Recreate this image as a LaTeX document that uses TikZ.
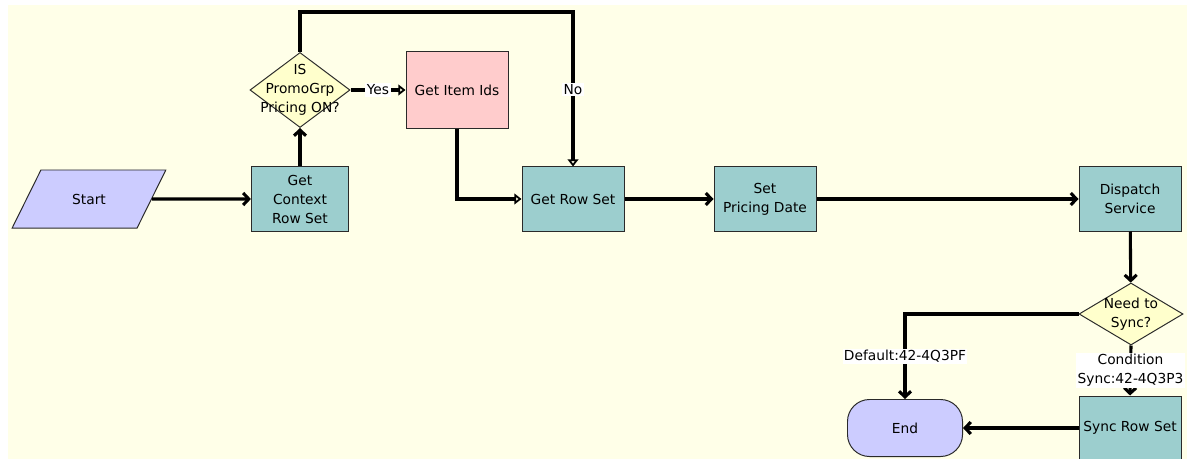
\documentclass[tikz,border=0pt]{standalone}
\usepackage{fontspec}
\setmainfont{DejaVu Sans}
\usetikzlibrary{arrows.meta,shapes.geometric}
\definecolor{Cream}{HTML}{FFFFE8}
\definecolor{Teal}{HTML}{9CCECE}
\definecolor{Lavender}{HTML}{CCCCFF}
\definecolor{Blush}{HTML}{FFCCCC}
\definecolor{Sand}{HTML}{FFFFCC}
\definecolor{Edge}{HTML}{2A2A2A}

\begin{document}
\begin{tikzpicture}[x=0.025cm,y=-0.025cm,
    font=\fontsize{9.8}{13.5}\selectfont,
    task/.style={draw=Edge,fill=Teal,line width=0.7pt,minimum width=2.55cm,
                 minimum height=1.6cm,align=center,inner sep=1pt},
    decision/.style={diamond,draw=Edge,fill=Sand,line width=0.7pt,inner sep=0pt},
    lbl/.style={fill=white,inner sep=1pt,align=center},
    flow/.style={line width=2.2pt,-{Straight Barb[length=4pt,width=8.5pt]}},
    branch/.style={line width=2.2pt,-{Triangle[open,length=5pt,width=7.5pt]}}]
  \useasboundingbox (0,0) rectangle (1187,459);
  \fill[Cream] (8,5) rectangle (1187,459);

  % nodes
  \node[trapezium,trapezium left angle=57,trapezium right angle=123,
        trapezium stretches=true,draw=Edge,fill=Lavender,line width=0.7pt,
        minimum width=3.85cm,minimum height=1.45cm] (start) at (89,199) {Start};
  \node[task,minimum width=2.43cm] (ctx) at (300,199) {Get\\Context\\Row Set};
  \node[decision,minimum width=2.5cm,minimum height=1.875cm,
        label={[align=center]center:IS\\PromoGrp\\Pricing ON?}] (promo) at (300,90) {};
  \node[task,fill=Blush,minimum height=1.9cm] (ids) at (457,90) {Get Item Ids};
  \node[task] (rows) at (573,199) {Get Row Set};
  \node[task] (pdate) at (765,199) {Set\\Pricing Date};
  \node[task] (disp) at (1130,199) {Dispatch\\Service};
  \node[decision,minimum width=2.6cm,minimum height=1.55cm,
        label={[align=center]center:Need to\\Sync?}] (sync) at (1131,314) {};
  \node[task] (syncrs) at (1130,428) {Sync Row Set};
  \node[draw=Edge,fill=Lavender,line width=0.7pt,rounded corners=0.55cm,
        minimum width=2.875cm,minimum height=1.425cm] (endn) at (905,428) {End};

  % connectors
  \draw[flow] (start) -- (ctx);
  \draw[flow] (ctx) -- (promo);
  \draw[branch] (promo) -- node[lbl]{Yes} (ids);
  \draw[branch] (promo.north) -- ++(0,-40) -| node[lbl,pos=0.75]{No} (rows.north);
  \draw[branch] (ids.south) |- (rows.west);
  \draw[flow] (rows) -- (pdate);
  \draw[flow] (pdate) -- (disp);
  \draw[flow] (disp) -- (sync);
  \draw[flow] (sync.west) -| node[lbl,pos=0.75]{Default:42-4Q3PF} (endn.north);
  \draw[flow] (sync.south) -- node[lbl]{Condition\\Sync:42-4Q3P3} (syncrs.north);
  \draw[flow] (syncrs) -- (endn);
\end{tikzpicture}
\end{document}
